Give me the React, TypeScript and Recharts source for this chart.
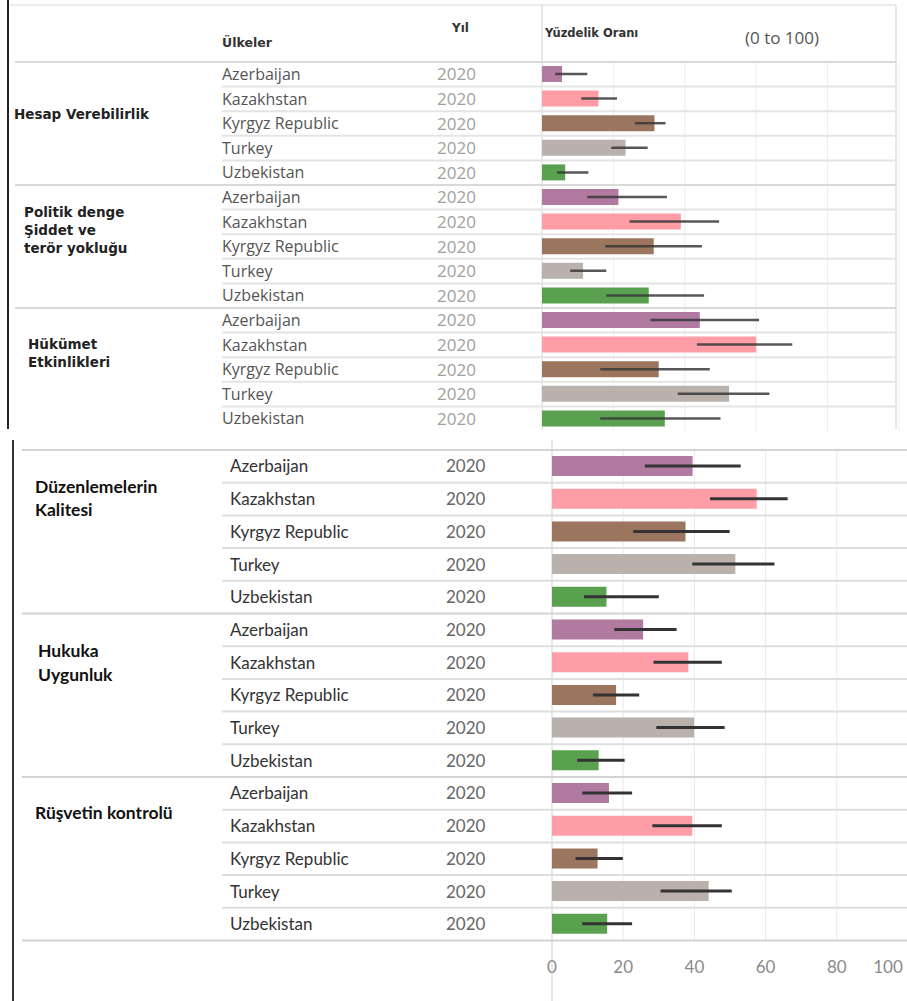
import React from 'react';
import { BarChart, Bar, XAxis, YAxis, CartesianGrid, ErrorBar, Cell } from 'recharts';

// ---------- data ----------
const countries = ['Azerbaijan', 'Kazakhstan', 'Kyrgyz Republic', 'Turkey', 'Uzbekistan'];
const yearLabel = '2020';
const xTicks = [0, 20, 40, 60, 80, 100];

const topGroups = ['Hesap Verebilirlik', 'Politik denge\nŞiddet ve\nterör yokluğu', 'Hükümet\nEtkinlikleri'];
const bottomGroups = ['Düzenlemelerin\nKalitesi', 'Hukuka\nUygunluk', 'Rüşvetin kontrolü'];

const hesapVal = [5.6, 15.8, 31.5, 23.4, 6.5];
const hesapLow = [3.7, 11, 26, 19.4, 4.2];
const hesapHigh = [12.7, 21, 34.6, 29.6, 13];

const politikVal = [21.4, 38.9, 31.3, 11.5, 29.9];
const politikLow = [12.7, 24.5, 17.7, 7.9, 18];
const politikHigh = [35, 49.6, 44.8, 18, 45.4];

const hukumetVal = [44.2, 60, 32.7, 52.4, 34.4];
const hukumetLow = [30.4, 43.4, 16.3, 38, 16.3];
const hukumetHigh = [60.8, 70.1, 47, 63.7, 50];

const duzenVal = [39.5, 57.5, 37.5, 51.5, 15.3];
const duzenLow = [26.1, 44.4, 22.8, 39.4, 9];
const duzenHigh = [53, 66.2, 49.9, 62.5, 30];

const hukukaVal = [25.6, 38.3, 18, 39.9, 13.1];
const hukukaLow = [17.5, 28.5, 11.5, 29.3, 7.1];
const hukukaHigh = [35, 47.7, 24.5, 48.5, 20.4];

const rusvetVal = [16, 39.4, 12.8, 44, 15.5];
const rusvetLow = [8.5, 28.2, 6.6, 30.5, 8.5];
const rusvetHigh = [22.5, 47.7, 19.9, 50.5, 22.5];

// ---------- styles ----------
const countryColors: Record<string, string> = {
  Azerbaijan: '#b07aa1',
  Kazakhstan: '#ff9da7',
  'Kyrgyz Republic': '#9c755f',
  Turkey: '#bab0ac',
  Uzbekistan: '#59a14f',
};

type Row = {
  key: string;
  group: number;
  groupName: string;
  country: string;
  year: string;
  value: number;
  err: [number, number];
  first: boolean;
  last: boolean;
};

function buildRows(groups: string[], vals: number[][], lows: number[][], highs: number[][], prefix: string): Row[] {
  const rows: Row[] = [];
  groups.forEach((g, gi) => {
    countries.forEach((c, ci) => {
      const v = vals[gi][ci];
      rows.push({
        key: `${prefix}-${gi}-${ci}`,
        group: gi,
        groupName: g,
        country: c,
        year: yearLabel,
        value: v,
        err: [v - lows[gi][ci], highs[gi][ci] - v],
        first: ci === 0,
        last: gi === groups.length - 1 && ci === countries.length - 1,
      });
    });
  });
  return rows;
}

const topRows = buildRows(topGroups, [hesapVal, politikVal, hukumetVal], [hesapLow, politikLow, hukumetLow], [hesapHigh, politikHigh, hukumetHigh], 't');
const bottomRows = buildRows(bottomGroups, [duzenVal, hukukaVal, rusvetVal], [duzenLow, hukukaLow, rusvetLow], [duzenHigh, hukukaHigh, rusvetHigh], 'b');

const topMap: Record<string, Row> = Object.fromEntries(topRows.map((r) => [r.key, r]));
const bottomMap: Record<string, Row> = Object.fromEntries(bottomRows.map((r) => [r.key, r]));

const TOP_ROW_H = 369 / 15;
const BOT_ROW_H = 490.5 / 15;

const topLabelPos = [
  { x: 14, dy: 40, lh: 18 },
  { x: 24, dy: 15, lh: 18 },
  { x: 28, dy: 24, lh: 18 },
];
const bottomLabelPos = [
  { x: 35, dy: 20, lh: 23 },
  { x: 38, dy: 21, lh: 24 },
  { x: 35, dy: 19, lh: 23 },
];

const TOP_FONT = '"Open Sans", "Noto Sans", sans-serif';
const TOP_BOLD = '"DejaVu Sans", Verdana, sans-serif';
const BOT_FONT = 'Lato, "Open Sans", sans-serif';

const TopTick = (props: any) => {
  const { y, payload } = props;
  const row = topMap[payload.value];
  if (!row) return null;
  const top = y - TOP_ROW_H / 2;
  const pos = topLabelPos[row.group];
  return (
    <g>
      <line x1={row.first ? 15 : 222} x2={896} y1={top} y2={top} stroke={row.first ? '#d9d9d9' : '#e4e4e4'} strokeWidth={2} />
      <text x={222} y={y} dy="0.36em" fontSize={16} fill="#555" fontFamily={TOP_FONT}>{row.country}</text>
      <text x={437} y={y} dy="0.36em" fontSize={17} fill="#a0a0a0" fontFamily={TOP_FONT}>{row.year}</text>
      {row.first &&
        row.groupName.split('\n').map((ln, i) => (
          <text key={i} x={pos.x} y={y + pos.dy + i * pos.lh} dy="0.36em" fontSize={13.5} fontWeight="bold" fill="#222" fontFamily={TOP_BOLD}>
            {ln}
          </text>
        ))}
    </g>
  );
};

const BottomTick = (props: any) => {
  const { y, payload } = props;
  const row = bottomMap[payload.value];
  if (!row) return null;
  const top = y - BOT_ROW_H / 2;
  const pos = bottomLabelPos[row.group];
  return (
    <g>
      <line x1={row.first ? 22 : 222} x2={907} y1={top} y2={top} stroke={row.first ? '#d4d4d4' : '#dedede'} strokeWidth={2} />
      {row.last && <line x1={22} x2={907} y1={y + BOT_ROW_H / 2} y2={y + BOT_ROW_H / 2} stroke="#d4d4d4" strokeWidth={2} />}
      <text x={230} y={y} dy="0.36em" fontSize={17} fill="#333" fontFamily={BOT_FONT}>{row.country}</text>
      <text x={446} y={y} dy="0.36em" fontSize={17} fill="#666" fontFamily={BOT_FONT}>{row.year}</text>
      {row.first &&
        row.groupName.split('\n').map((ln, i) => (
          <text key={i} x={pos.x} y={y + pos.dy + i * pos.lh} dy="0.36em" fontSize={17.5} fontWeight="bold" fill="#111" fontFamily={BOT_FONT}>
            {ln}
          </text>
        ))}
    </g>
  );
};

const XTick = (props: any) => {
  const { x, y, payload } = props;
  const tx = Math.min(x, 888);
  return (
    <text x={tx} y={y + 32} textAnchor="middle" fontSize={17} fill="#8a8a8a" fontFamily={BOT_FONT}>
      {payload.value}
    </text>
  );
};

export default function App() {
  return (
    <div style={{ position: 'absolute', left: 0, top: 0, width: 907, height: 1001, background: '#fff', overflow: 'hidden' }}>
      {/* frame and header, top part */}
      <svg width={907} height={1001} style={{ position: 'absolute', left: 0, top: 0 }}>
        <line x1={10} x2={896} y1={5} y2={5} stroke="#ececec" strokeWidth={2} />
        <line x1={8} x2={8} y1={0} y2={429} stroke="#222" strokeWidth={2} />
        <line x1={896} x2={896} y1={5} y2={429} stroke="#d0d0d0" strokeWidth={1} />
        <line x1={542} x2={542} y1={5} y2={429} stroke="#cfcfcf" strokeWidth={1} />
        <text x={222} y={42} dy="0.36em" fontSize={12.5} fontWeight={700} fill="#333" fontFamily={TOP_BOLD}>Ülkeler</text>
        <text x={452} y={28} dy="0.36em" fontSize={12} fontWeight={700} fill="#333" fontFamily={TOP_BOLD}>Yıl</text>
        <text x={545} y={33} dy="0.36em" fontSize={11.5} fontWeight={700} fill="#333" fontFamily={TOP_BOLD}>Yüzdelik Oranı</text>
        <text x={745} y={38} dy="0.36em" fontSize={17} fill="#555" fontFamily={TOP_FONT}>(0 to 100)</text>
        {/* bottom part frame */}
        <line x1={13} x2={13} y1={440} y2={1001} stroke="#333" strokeWidth={2} />
        <line x1={552} x2={552} y1={440} y2={1001} stroke="#cfcfcf" strokeWidth={1} />
      </svg>

      <div style={{ position: 'absolute', left: 0, top: 0, width: 907, height: 431 }}>
        <BarChart width={907} height={431} data={topRows} layout="vertical" margin={{ top: 62, right: 8, bottom: 0, left: 0 }}>
          <CartesianGrid horizontal={false} vertical stroke="#ededed" />
          <XAxis type="number" domain={[0, 100]} ticks={xTicks} hide />
          <YAxis type="category" dataKey="key" width={542} interval={0} tickLine={false} axisLine={false} tick={<TopTick />} />
          <Bar dataKey="value" barSize={16} isAnimationActive={false}>
            {topRows.map((r) => (
              <Cell key={r.key} fill={countryColors[r.country]} />
            ))}
            <ErrorBar dataKey="err" direction="x" width={0} stroke="#3a3a3a" strokeOpacity={0.85} strokeWidth={2.5} />
          </Bar>
        </BarChart>
      </div>

      <div style={{ position: 'absolute', left: 0, top: 440, width: 907, height: 561, overflow: 'hidden' }}>
        <BarChart width={912} height={561} data={bottomRows} layout="vertical" margin={{ top: 10, right: 4, bottom: 0, left: 0 }}>
          <CartesianGrid horizontal={false} vertical stroke="#e9e9e9" />
          <XAxis type="number" domain={[0, 100]} ticks={xTicks} height={60.5} tickLine={false} axisLine={false} tickSize={0} tickMargin={0} tick={<XTick />} interval={0} />
          <YAxis type="category" dataKey="key" width={552} interval={0} tickLine={false} axisLine={false} tick={<BottomTick />} />
          <Bar dataKey="value" barSize={20} isAnimationActive={false}>
            {bottomRows.map((r) => (
              <Cell key={r.key} fill={countryColors[r.country]} />
            ))}
            <ErrorBar dataKey="err" direction="x" width={0} stroke="#333" strokeWidth={3} />
          </Bar>
        </BarChart>
      </div>
    </div>
  );
}
